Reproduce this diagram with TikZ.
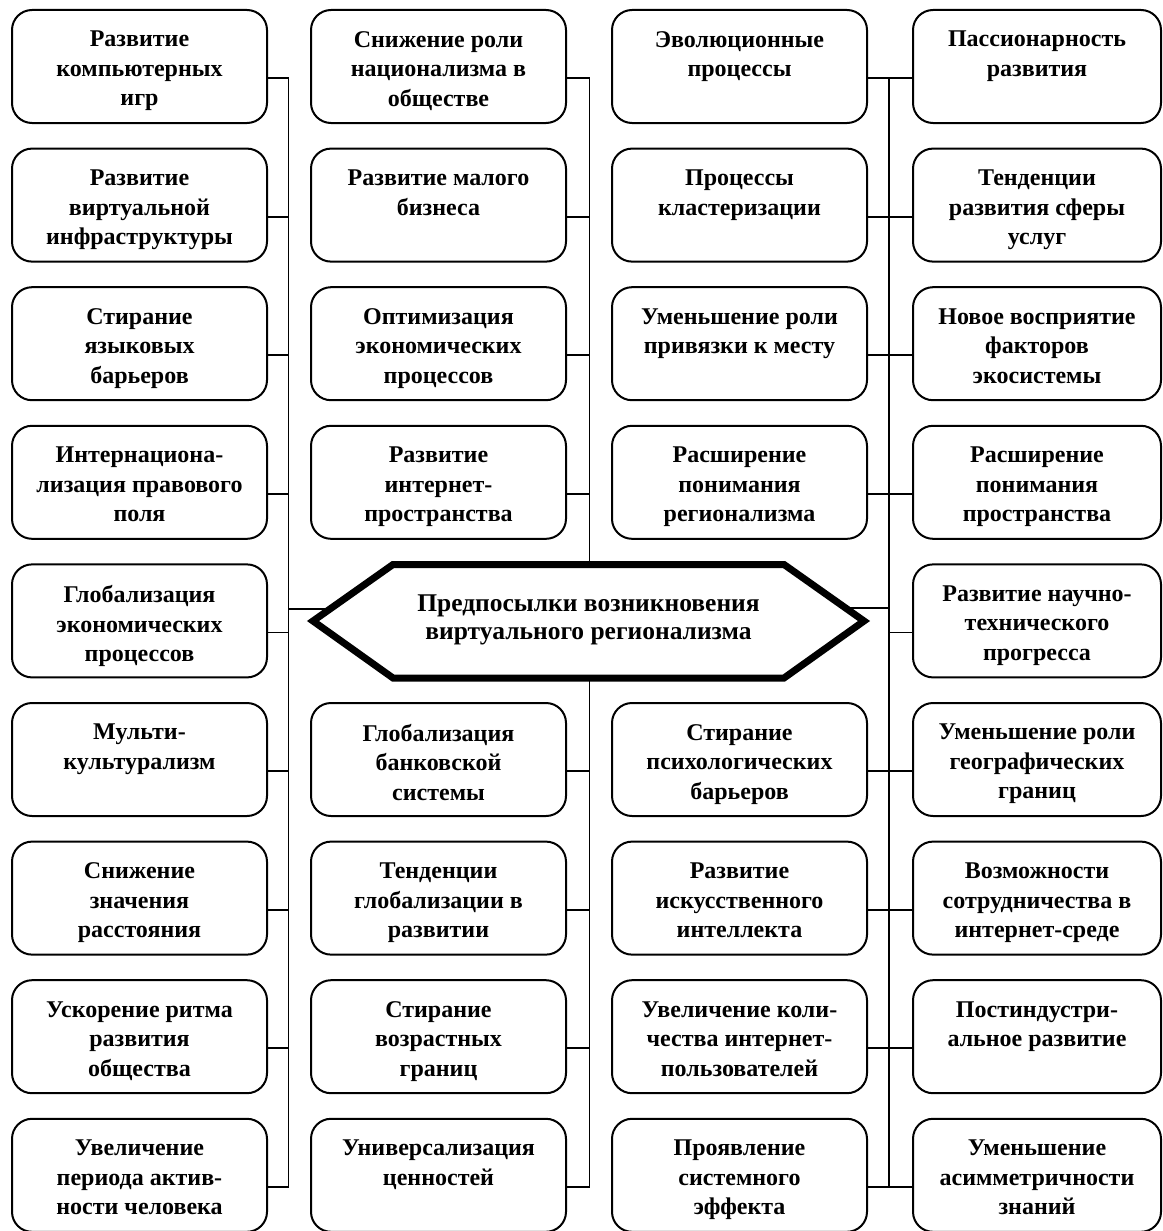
\documentclass[tikz,border=0pt]{standalone}
\usepackage{fontspec}
\setmainfont{Liberation Serif}
\newcommand{\mkbx}[5]{%
  \node[boxsty, minimum width=#4pt] (#1) at (#2, #3+56.5) {};
  \node[txtsty] (#1t) at (#2, #3+21) {#5};}
\begin{document}
\begin{tikzpicture}[x=1pt,y=-1pt,
  boxsty/.style={draw, line width=2pt, rounded corners=20pt, minimum height=113pt, inner sep=0pt},
  txtsty/.style={anchor=north, inner sep=0pt, align=center, font=\fontsize{24}{29.5}\selectfont\bfseries},
  conn/.style={line width=1.8pt},
  hexsty/.style={line width=7pt, fill=white, line join=miter},
  ctext/.style={inner sep=0pt, align=center, font=\fontsize{25.5}{28}\selectfont\bfseries}]
\useasboundingbox (0,0) rectangle (1162,1231);

% column 1
\mkbx{A1}{139.5}{10}{255}{Развитие\\компьютерных\\игр}
\mkbx{A2}{139.5}{148.6}{255}{Развитие\\виртуальной\\инфраструктуры}
\mkbx{A3}{139.5}{287.2}{255}{Стирание\\языковых\\барьеров}
\mkbx{A4}{139.5}{425.8}{255}{Интернациона-\\лизация правового\\поля}
\mkbx{A5}{139.5}{564.4}{255}{Глобализация\\экономических\\процессов}
\mkbx{A6}{139.5}{703}{255}{Мульти-\\культурализм}
\mkbx{A7}{139.5}{841.6}{255}{Снижение\\значения\\расстояния}
\mkbx{A8}{139.5}{980.2}{255}{Ускорение ритма\\развития\\общества}
\mkbx{A9}{139.5}{1118.8}{255}{Увеличение\\периода актив-\\ности человека}
% column 2
\mkbx{B1}{438.5}{10}{255}{Снижение роли\\национализма в\\обществе}
\mkbx{B2}{438.5}{148.6}{255}{Развитие малого\\бизнеса}
\mkbx{B3}{438.5}{287.2}{255}{Оптимизация\\экономических\\процессов}
\mkbx{B4}{438.5}{425.8}{255}{Развитие\\интернет-\\пространства}
\mkbx{B6}{438.5}{703}{255}{Глобализация\\банковской\\системы}
\mkbx{B7}{438.5}{841.6}{255}{Тенденции\\глобализации в\\развитии}
\mkbx{B8}{438.5}{980.2}{255}{Стирание\\возрастных\\границ}
\mkbx{B9}{438.5}{1118.8}{255}{Универсализация\\ценностей}
% column 3
\mkbx{C1}{739.5}{10}{255}{Эволюционные\\процессы}
\mkbx{C2}{739.5}{148.6}{255}{Процессы\\кластеризации}
\mkbx{C3}{739.5}{287.2}{255}{Уменьшение роли\\привязки к месту}
\mkbx{C4}{739.5}{425.8}{255}{Расширение\\понимания\\регионализма}
\mkbx{C6}{739.5}{703}{255}{Стирание\\психологических\\барьеров}
\mkbx{C7}{739.5}{841.6}{255}{Развитие\\искусственного\\интеллекта}
\mkbx{C8}{739.5}{980.2}{255}{Увеличение коли-\\чества интернет-\\пользователей}
\mkbx{C9}{739.5}{1118.8}{255}{Проявление\\системного\\эффекта}
% column 4
\mkbx{D1}{1037}{10}{248}{Пассионарность\\развития}
\mkbx{D2}{1037}{148.6}{248}{Тенденции\\развития сферы\\услуг}
\mkbx{D3}{1037}{287.2}{248}{Новое восприятие\\факторов\\экосистемы}
\mkbx{D4}{1037}{425.8}{248}{Расширение\\понимания\\пространства}
\mkbx{D5}{1037}{564.4}{248}{Развитие научно-\\технического\\прогресса}
\mkbx{D6}{1037}{703}{248}{Уменьшение роли\\географических\\границ}
\mkbx{D7}{1037}{841.6}{248}{Возможности\\сотрудничества в\\интернет-среде}
\mkbx{D8}{1037}{980.2}{248}{Постиндустри-\\альное развитие}
\mkbx{D9}{1037}{1118.8}{248}{Уменьшение\\асимметричности\\знаний}

% trunk lines
\coordinate (L1) at (288.5,0);
\coordinate (L2) at (589.5,0);
\coordinate (L3) at (889,0);
\coordinate (HL) at (345,609);
\coordinate (HR) at (832,608);

\foreach \i in {1,...,9} {
  \draw[conn] ([yshift=-11.5pt]A\i.east) -- ([yshift=-11.5pt]A\i.east -| L1);
  \draw[conn] ([yshift=-11.5pt]D\i.west) -- ([yshift=-11.5pt]D\i.west -| L3);
}
\foreach \i in {1,2,3,4,6,7,8,9} {
  \draw[conn] ([yshift=-11.5pt]B\i.east) -- ([yshift=-11.5pt]B\i.east -| L2);
  \draw[conn] ([yshift=-11.5pt]C\i.east) -- ([yshift=-11.5pt]C\i.east -| L3);
}
\draw[conn] ([yshift=-11.5pt]A1.east -| L1) -- ([yshift=-11.5pt]A9.east -| L1);
\draw[conn] ([yshift=-11.5pt]B1.east -| L2) -- ([yshift=-11.5pt]B9.east -| L2);
\draw[conn] ([yshift=-11.5pt]D1.west -| L3) -- ([yshift=-11.5pt]D9.west -| L3);
\draw[conn] (HL -| L1) -- (HL);
\draw[conn] (HR) -- (HR -| L3);

% central hexagon
\draw[hexsty] (313,621) -- (393,564.5) -- (784,564.5) -- (864,621) -- (784,678) -- (393,678) -- cycle;
\node[ctext] (H) at (588.5,620) {Предпосылки возникновения\\виртуального регионализма};
\end{tikzpicture}
\end{document}
